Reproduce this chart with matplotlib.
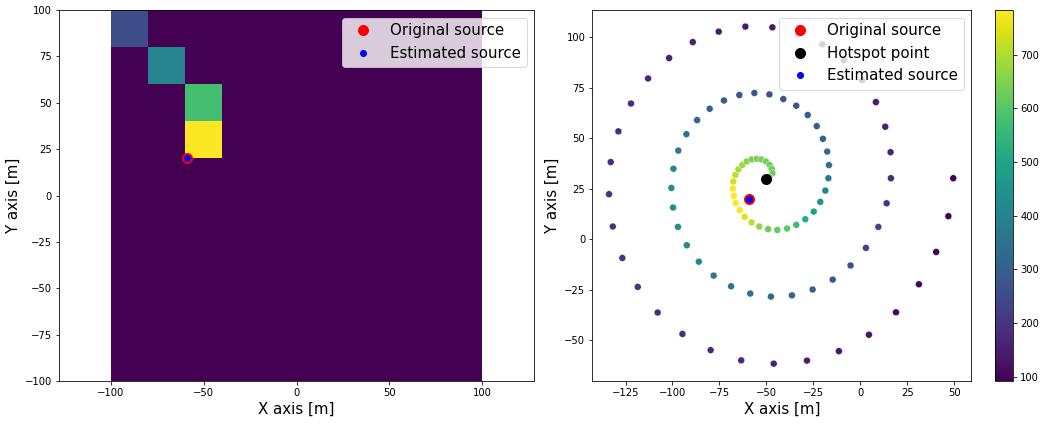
import numpy as np
import matplotlib
matplotlib.use("Agg")
import matplotlib.pyplot as plt

# grid cells of the left map (rows bottom -> top, 20 m cells from -100 to 100)
cell_edges = [-100, -80, -60, -40, -20, 0, 20, 40, 60, 80, 100]
grid_values = [
    [0, 0, 0, 0, 0, 0, 0, 0, 0, 0],
    [0, 0, 0, 0, 0, 0, 0, 0, 0, 0],
    [0, 0, 0, 0, 0, 0, 0, 0, 0, 0],
    [0, 0, 0, 0, 0, 0, 0, 0, 0, 0],
    [0, 0, 0, 0, 0, 0, 0, 0, 0, 0],
    [0, 0, 0, 0, 0, 0, 0, 0, 0, 0],
    [0, 0, 20, 0, 0, 0, 0, 0, 0, 0],
    [0, 0, 14, 0, 0, 0, 0, 0, 0, 0],
    [0, 9, 0, 0, 0, 0, 0, 0, 0, 0],
    [4.6, 0, 0, 0, 0, 0, 0, 0, 0, 0],
]

source = (-59, 20)
estimated = (-59, 20)
hotspot = (-50, 30)

# measurement points of the spiral path, outer end first
path_x = [49.5, 46.9, 40.4, 31.2, 19.0, 4.6, -11.4, -28.4, -46.1, -63.4,
          -79.7, -94.7, -107.9, -118.5, -126.7, -131.8, -133.8, -132.9, -128.8, -122.1,
          -113.0, -101.8, -89.2, -75.4, -61.2, -46.8, -33.0, -20.2, -8.7, 0.9,
          8.3, 13.3, 16.1, 16.3, 14.0, 9.6, 3.0, -5.2, -14.7, -25.4,
          -36.4, -47.6, -58.6, -68.8, -78.1, -86.0, -92.4, -97.1, -99.7, -100.6,
          -99.5, -96.9, -92.6, -86.9, -80.2, -72.6, -64.4, -56.4, -48.4, -41.0,
          -34.1, -28.0, -23.2, -19.9, -17.6, -16.7, -17.0, -18.6, -21.3, -24.8,
          -29.3, -34.1, -39.0, -44.2, -49.1, -53.8, -57.9, -61.6, -64.2, -66.3,
          -67.4, -67.9, -67.6, -66.5, -64.9, -62.8, -60.5, -57.8, -55.2, -52.7,
          -50.2, -48.3, -47.2, -46.8, -48.5]
path_y = [30.2, 11.4, -6.3, -22.3, -36.2, -47.3, -55.4, -60.1, -61.6, -60.0,
          -54.9, -46.9, -36.3, -23.6, -9.3, 6.3, 22.3, 38.2, 53.4, 67.2,
          79.6, 89.7, 97.6, 102.8, 105.3, 104.9, 101.5, 96.5, 88.6, 78.8,
          67.9, 55.7, 43.1, 30.2, 17.8, 6.1, -4.3, -13.0, -20.0, -24.9,
          -27.8, -28.4, -26.9, -23.3, -18.0, -11.1, -3.0, 6.1, 15.7, 25.4,
          34.9, 43.9, 52.0, 59.0, 64.6, 68.7, 71.4, 72.4, 71.7, 69.4,
          66.1, 61.5, 56.0, 49.7, 43.4, 36.7, 30.2, 24.1, 18.5, 13.7,
          9.9, 7.1, 5.3, 4.6, 5.0, 6.3, 8.3, 11.1, 14.4, 17.9,
          21.5, 25.1, 28.6, 31.9, 34.6, 36.8, 38.5, 39.5, 39.8, 39.5,
          38.5, 36.8, 34.9, 32.7, 30.8]
path_values = [92, 95, 99, 104, 110, 130, 140, 153, 160, 168,
               175, 182, 189, 196, 196, 196, 196, 189, 182, 175,
               168, 160, 153, 147, 140, 140, 134, 134, 134, 140,
               147, 155, 162, 175, 196, 230, 244, 265, 285, 300,
               313, 327, 348, 362, 375, 403, 423, 437, 437, 430,
               403, 375, 348, 320, 300, 285, 272, 265, 265, 272,
               278, 285, 300, 313, 334, 355, 375, 403, 450, 485,
               527, 569, 603, 617, 630, 665, 714, 748, 775, 783,
               783, 775, 742, 714, 694, 680, 660, 645, 640, 640,
               635, 632, 630, 630, 630]

plt.rcParams['font.family'] = 'DejaVu Sans'
fig = plt.figure(figsize=(1046 / 72, 424 / 72), dpi=72)

# left: map of estimated cells
ax1 = fig.add_axes([59 / 1046, 43 / 424, 475 / 1046, 371 / 424])
ax1.pcolormesh(cell_edges, cell_edges, np.array(grid_values), cmap='viridis')
ax1.plot(source[0], source[1], 'o', color='red', markersize=10, label='Original source')
ax1.plot(estimated[0], estimated[1], 'o', color='blue', markersize=6, label='Estimated source')
ax1.set_xlim(-128, 128)
ax1.set_ylim(-100, 100)
ax1.set_xlabel('X axis [m]', fontsize=15)
ax1.set_ylabel('Y axis [m]', fontsize=15)
ax1.tick_params(labelsize=10)
ax1.legend(loc='upper right', fontsize=15)

# right: spiral measurement path
ax2 = fig.add_axes([592.3 / 1046, 43 / 424, 379 / 1046, 371 / 424])
sc = ax2.scatter(path_x, path_y, c=path_values, cmap='viridis', s=48,
                 edgecolors='white', linewidths=0.4, vmin=92, vmax=783)
ax2.plot(source[0], source[1], 'o', color='red', markersize=10, label='Original source')
ax2.plot(hotspot[0], hotspot[1], 'o', color='black', markersize=10, label='Hotspot point')
ax2.plot(estimated[0], estimated[1], 'o', color='blue', markersize=6, label='Estimated source')
ax2.set_xlim(-142.7, 59.1)
ax2.set_ylim(-70.2, 113.5)
ax2.set_xlabel('X axis [m]', fontsize=15)
ax2.set_ylabel('Y axis [m]', fontsize=15)
ax2.tick_params(labelsize=10)
ax2.legend(loc='upper right', fontsize=15)

cax = fig.add_axes([995.3 / 1046, 43 / 424, 18 / 1046, 371 / 424])
cb = fig.colorbar(sc, cax=cax)
cb.ax.tick_params(labelsize=10)

fig.savefig('out.png', dpi=72)
